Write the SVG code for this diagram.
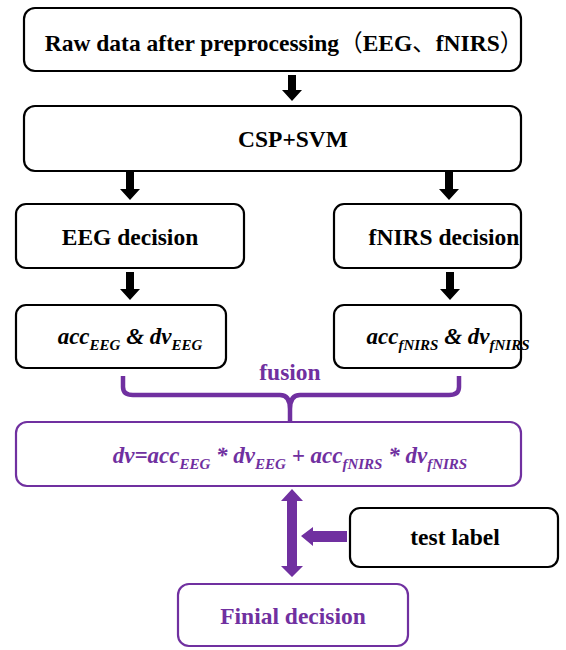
<svg xmlns="http://www.w3.org/2000/svg" width="566" height="650" viewBox="0 0 566 650" font-family="Liberation Serif, DejaVu Serif, serif">
<style>
.box{fill:#fff;stroke:#000;stroke-width:2.2}
.pbox{fill:#fff;stroke:#7030A0;stroke-width:2.2}
.t{font-weight:bold;font-size:23.5px;fill:#000;text-anchor:middle}
.cjk{font-family:'Noto Sans CJK SC',sans-serif;font-weight:normal}
.it{font-style:italic;font-size:23px}
.p{fill:#7030A0}
.sub{font-size:15px}
.arr{fill:#000}
.parr{fill:#7030A0}
</style>
<rect width="566" height="650" fill="#fff"/>
<g id="raw"><rect class="box" x="24" y="8" width="497" height="63" rx="11"/><text class="t" x="284" y="51" font-size="22.2">Raw data after preprocessing<tspan class="cjk">（</tspan>EEG<tspan class="cjk">、</tspan>fNIRS<tspan class="cjk">）</tspan></text></g>
<g id="csp"><rect class="box" x="24" y="106" width="497" height="65" rx="11"/><text class="t" x="293" y="147">CSP+SVM</text></g>
<g id="eegdec"><rect class="box" x="16" y="204" width="228" height="64" rx="10"/><text class="t" x="130" y="245">EEG decision</text></g>
<g id="fnirsdec"><rect class="box" x="334" y="204" width="187" height="64" rx="10"/><text class="t" x="444" y="245">fNIRS decision</text></g>
<g id="acceeg"><rect class="box" x="16" y="305" width="210" height="63" rx="10"/><text class="t it" x="130" y="344">acc<tspan class="sub" dy="6">EEG</tspan><tspan dy="-6"> &amp; dv</tspan><tspan class="sub" dy="6">EEG</tspan></text></g>
<g id="accfnirs"><rect class="box" x="334" y="305" width="187" height="63" rx="10"/><text class="t it" x="448" y="344">acc<tspan class="sub" dy="6">fNIRS</tspan><tspan dy="-6"> &amp; dv</tspan><tspan class="sub" dy="6">fNIRS</tspan></text></g>
<g id="fusion"><text class="t p" x="290" y="380">fusion</text></g>
<g id="formula"><rect class="pbox" x="16" y="422" width="505" height="64" rx="11"/><text class="t it p" x="290" y="463">dv=acc<tspan class="sub" dy="6">EEG</tspan><tspan dy="-6"> * dv</tspan><tspan class="sub" dy="6">EEG</tspan><tspan dy="-6"> + acc</tspan><tspan class="sub" dy="6">fNIRS</tspan><tspan dy="-6"> * dv</tspan><tspan class="sub" dy="6">fNIRS</tspan></text></g>
<g id="testlabel"><rect class="box" x="350" y="508" width="208" height="59" rx="10"/><text class="t" x="455" y="545">test label</text></g>
<g id="final"><rect class="pbox" x="178" y="584" width="230" height="62" rx="11"/><text class="t p" x="293" y="624">Finial decision</text></g>
<g id="connectors">
<polygon class="arr" points="288,75 296,75 296,90 302,90 292,101 282,90 288,90"/>
<polygon class="arr" points="126,172 134,172 134,189 140,189 130,200 120,189 126,189"/>
<polygon class="arr" points="445,172 453,172 453,189 459,189 449,200 439,189 445,189"/>
<polygon class="arr" points="126,272 134,272 134,289 140,289 130,300 120,289 126,289"/>
<polygon class="arr" points="446,272 454,272 454,289 460,289 450,300 440,289 446,289"/>
<path d="M123,376 V387 Q123,395 133,395 H280 Q290,395 290,409 V421 M290,409 Q290,395 300,395 H449 Q459,395 459,387 V376" fill="none" stroke="#7030A0" stroke-width="4.5"/>
<polygon class="parr" points="292,489 303,501 297,501 297,566 303,566 292,577 281,566 287,566 287,501 281,501"/>
<polygon class="parr" points="301,536 313,527 313,531 347,531 347,542 313,542 313,546"/>
</g>
</svg>
